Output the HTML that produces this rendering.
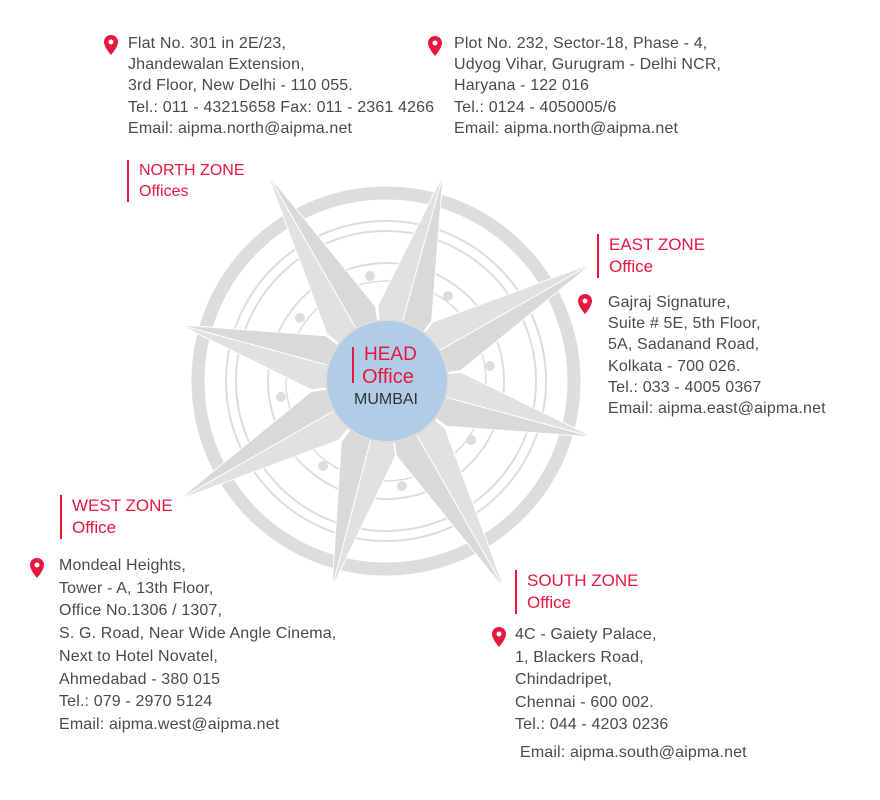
<!DOCTYPE html>
<html><head><style>
body{margin:0;width:880px;height:800px;background:#fff;position:relative;font-family:"Liberation Sans",sans-serif;overflow:hidden}
.t{position:absolute;font-size:16px;letter-spacing:0.15px;line-height:21.2px;color:#4a4a4a;white-space:nowrap}
.h{position:absolute;font-size:17px;line-height:22px;color:#e8173f;border-left:2px solid #e8173f;padding-left:10px;white-space:nowrap}
.pin{position:absolute;width:14px;height:20px}
</style></head><body>
<svg width="880" height="800" style="position:absolute;left:0;top:0">
<g fill="none" stroke="#dcdddd">
<circle cx="386" cy="381" r="188" stroke-width="13"/>
<circle cx="386" cy="381" r="160" stroke-width="2"/>
<circle cx="386" cy="381" r="150" stroke-width="2"/>
<circle cx="386" cy="381" r="118" stroke-width="2"/>
<circle cx="386" cy="381" r="100" stroke-width="1.5"/>
</g>
<g fill="#dcdddd">
<circle cx="370" cy="276" r="5"/><circle cx="448" cy="296" r="5"/><circle cx="490" cy="366" r="5"/><circle cx="471" cy="440" r="5"/><circle cx="402" cy="486" r="5"/><circle cx="323" cy="466" r="5"/><circle cx="281" cy="397" r="5"/><circle cx="300" cy="318" r="5"/>
</g>
<g stroke="#fff" stroke-width="1">
<polygon fill="#d8d9d9" points="267,173 375.5,306.3 386,381"/><polygon fill="#e0e1e1" points="267,173 326.9,334.1 386,381"/>
<polygon fill="#d8d9d9" points="443,175 431.7,321 386,381"/><polygon fill="#e0e1e1" points="443,175 377.7,306 386,381"/>
<polygon fill="#d8d9d9" points="593,263 460.7,370.6 386,381"/><polygon fill="#e0e1e1" points="593,263 432.9,322 386,381"/>
<polygon fill="#d8d9d9" points="593,437 446.3,426.3 386,381"/><polygon fill="#e0e1e1" points="593,437 460.9,372.3 386,381"/>
<polygon fill="#d8d9d9" points="505,590 396.3,455.7 386,381"/><polygon fill="#e0e1e1" points="505,590 444.9,427.9 386,381"/>
<polygon fill="#d8d9d9" points="332,588 341.3,441.7 386,381"/><polygon fill="#e0e1e1" points="332,588 395.5,455.9 386,381"/>
<polygon fill="#d8d9d9" points="178,500 311.3,391.5 386,381"/><polygon fill="#e0e1e1" points="178,500 339.1,440.1 386,381"/>
<polygon fill="#d8d9d9" points="180,325 325.8,335.7 386,381"/><polygon fill="#e0e1e1" points="180,325 311.2,389.7 386,381"/>
</g>
<circle cx="387" cy="381" r="61" fill="#b0cce6" stroke="#ddd" stroke-width="2"/>
<line x1="353" y1="347" x2="353" y2="383" stroke="#e8173f" stroke-width="2"/>
<text x="364" y="360" font-size="19" fill="#e8173f" font-family="Liberation Sans">HEAD</text>
<text x="362" y="383" font-size="20" fill="#e8173f" font-family="Liberation Sans">Office</text>
<text x="354" y="404" font-size="16" fill="#333" font-family="Liberation Sans">MUMBAI</text>
</svg>
<svg class="pin" style="left:104px;top:35px" viewBox="0 0 14 20"><path d="M7 0a7 7 0 0 1 7 7c0 5-7 13-7 13S0 12 0 7a7 7 0 0 1 7-7z" fill="#e8173f"/><circle cx="7" cy="7" r="2.5" fill="#fff"/></svg>
<svg class="pin" style="left:428px;top:36px" viewBox="0 0 14 20"><path d="M7 0a7 7 0 0 1 7 7c0 5-7 13-7 13S0 12 0 7a7 7 0 0 1 7-7z" fill="#e8173f"/><circle cx="7" cy="7" r="2.5" fill="#fff"/></svg>
<svg class="pin" style="left:578px;top:294px" viewBox="0 0 14 20"><path d="M7 0a7 7 0 0 1 7 7c0 5-7 13-7 13S0 12 0 7a7 7 0 0 1 7-7z" fill="#e8173f"/><circle cx="7" cy="7" r="2.5" fill="#fff"/></svg>
<svg class="pin" style="left:30px;top:558px" viewBox="0 0 14 20"><path d="M7 0a7 7 0 0 1 7 7c0 5-7 13-7 13S0 12 0 7a7 7 0 0 1 7-7z" fill="#e8173f"/><circle cx="7" cy="7" r="2.5" fill="#fff"/></svg>
<svg class="pin" style="left:492px;top:627px" viewBox="0 0 14 20"><path d="M7 0a7 7 0 0 1 7 7c0 5-7 13-7 13S0 12 0 7a7 7 0 0 1 7-7z" fill="#e8173f"/><circle cx="7" cy="7" r="2.5" fill="#fff"/></svg>
<div class="t" style="left:128px;top:33px">Flat No. 301 in 2E/23,<br>Jhandewalan Extension,<br>3rd Floor, New Delhi - 110 055.<br>Tel.: 011 - 43215658 Fax: 011 - 2361 4266<br>Email: aipma.north@aipma.net</div>
<div class="t" style="left:454px;top:33px">Plot No. 232, Sector-18, Phase - 4,<br>Udyog Vihar, Gurugram - Delhi NCR,<br>Haryana - 122 016<br>Tel.: 0124 - 4050005/6<br>Email: aipma.north@aipma.net</div>
<div class="h" style="left:127px;top:160px;font-size:16px;line-height:21px">NORTH ZONE<br>Offices</div>
<div class="h" style="left:597px;top:234px">EAST ZONE<br>Office</div>
<div class="t" style="left:608px;top:292px">Gajraj Signature,<br>Suite # 5E, 5th Floor,<br>5A, Sadanand Road,<br>Kolkata - 700 026.<br>Tel.: 033 - 4005 0367<br>Email: aipma.east@aipma.net</div>
<div class="h" style="left:60px;top:495px">WEST ZONE<br>Office</div>
<div class="t" style="left:59px;top:555px;line-height:22.7px">Mondeal Heights,<br>Tower - A, 13th Floor,<br>Office No.1306 / 1307,<br>S. G. Road, Near Wide Angle Cinema,<br>Next to Hotel Novatel,<br>Ahmedabad - 380 015<br>Tel.: 079 - 2970 5124<br>Email: aipma.west@aipma.net</div>
<div class="h" style="left:515px;top:570px">SOUTH ZONE<br>Office</div>
<div class="t" style="left:515px;top:624px;line-height:22.5px">4C - Gaiety Palace,<br>1, Blackers Road,<br>Chindadripet,<br>Chennai - 600 002.<br>Tel.: 044 - 4203 0236</div>
<div class="t" style="left:520px;top:742px">Email: aipma.south@aipma.net</div>
</body></html>
